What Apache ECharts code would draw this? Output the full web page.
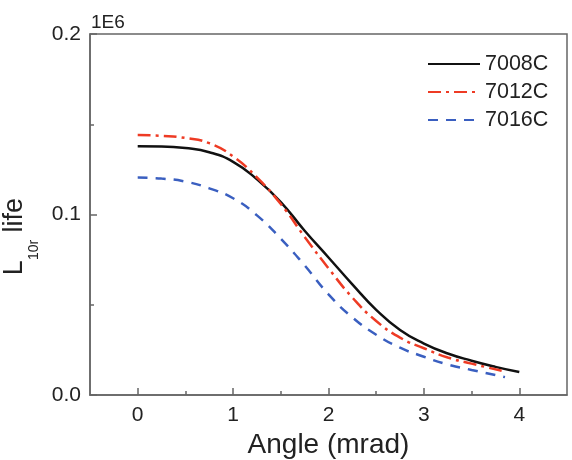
<!DOCTYPE html>
<html>
<head>
<meta charset="utf-8">
<script src="https://cdn.jsdelivr.net/npm/echarts@6/dist/echarts.min.js"></script>
<style>
html,body{margin:0;padding:0;background:#fff;}
#chart{width:572px;height:460px;}
</style>
</head>
<body>
<div id="chart"></div>
<script>
// Angle (mrad) sample points
var anglesA = [0, 0.25, 0.5, 0.75, 1, 1.25, 1.5, 1.75, 2, 2.25, 2.5, 2.75, 3, 3.25, 3.5, 3.75, 4];
var anglesB = [0, 0.25, 0.5, 0.75, 1, 1.25, 1.5, 1.75, 2, 2.25, 2.5, 2.75, 3, 3.25, 3.5, 3.85];
// L10r life (x 1E6)
var life7008C = [0.1378, 0.1377, 0.1368, 0.1345, 0.1292, 0.1195, 0.1069, 0.0910, 0.0762, 0.0613, 0.0472, 0.0360, 0.0285, 0.0230, 0.0190, 0.0156, 0.0127];
var life7012C = [0.1440, 0.1436, 0.1424, 0.1395, 0.1322, 0.1205, 0.1058, 0.0876, 0.0702, 0.0540, 0.0410, 0.0318, 0.0259, 0.0208, 0.0174, 0.0130];
var life7016C = [0.1205, 0.1199, 0.1182, 0.1145, 0.1090, 0.0995, 0.0866, 0.0718, 0.0558, 0.0430, 0.0334, 0.0262, 0.0212, 0.0169, 0.0139, 0.0099];
var seriesNames = ['7008C', '7012C', '7016C'];
var xMajorTicks = [0, 1, 2, 3, 4];
var xMinorTicks = [0.5, 1.5, 2.5, 3.5];

function pairs(xs, ys) { return xs.map(function (x, i) { return [x, ys[i]]; }); }

var FONT = 'Liberation Sans, Arial, sans-serif';
var AXIS_COLOR = '#666';

var chart = echarts.init(document.getElementById('chart'));
chart.setOption({
  animation: false,
  backgroundColor: '#fff',
  title: {
    text: '1E6', left: 86, top: 8,
    textStyle: { fontFamily: FONT, fontSize: 19, fontWeight: 'normal', color: '#222' }
  },
  grid: {
    left: 90, right: 5, top: 34, bottom: 65, containLabel: false, outerBoundsMode: 'none',
    show: true, borderColor: AXIS_COLOR, borderWidth: 1.5, backgroundColor: 'transparent'
  },
  legend: {
    orient: 'vertical', left: 422, top: 48,
    itemWidth: 52, itemHeight: 14, itemGap: 6,
    itemStyle: { opacity: 0 },
    textStyle: { fontFamily: FONT, fontSize: 21.5, color: '#222' },
    data: seriesNames
  },
  xAxis: [{
    type: 'value', min: -0.5, max: 4.5,
    name: 'Angle (mrad)', nameLocation: 'middle', nameGap: 30,
    nameTextStyle: { fontFamily: FONT, fontSize: 28, color: '#222' },
    axisLine: { show: true, onZero: false, lineStyle: { color: AXIS_COLOR, width: 1.5 } },
    axisTick: { show: true, inside: true, length: 7, customValues: xMajorTicks, lineStyle: { color: AXIS_COLOR, width: 1.5 } },
    axisLabel: { customValues: xMajorTicks, margin: 10, fontFamily: FONT, fontSize: 21, color: '#222' },
    splitLine: { show: false }
  }, {
    type: 'value', min: -0.5, max: 4.5, position: 'bottom',
    axisLine: { show: false, onZero: false },
    axisTick: { show: true, inside: true, length: 4, customValues: xMinorTicks, lineStyle: { color: AXIS_COLOR, width: 1.5 } },
    axisLabel: { show: false },
    splitLine: { show: false }
  }],
  yAxis: {
    type: 'value', min: 0, max: 0.2, interval: 0.1,
    name: '{l|L}{s|10r}{l| life}', nameLocation: 'middle', nameGap: 52, nameRotate: 90,
    nameTextStyle: {
      fontFamily: FONT, color: '#222', padding: [0, 44, 0, 0],
      rich: {
        l: { fontFamily: FONT, fontSize: 27, lineHeight: 30, verticalAlign: 'top', color: '#222' },
        s: { fontFamily: FONT, fontSize: 14, lineHeight: 14, verticalAlign: 'top', padding: [26, 0, 0, 0], color: '#222' }
      }
    },
    axisLine: { show: true, onZero: false, lineStyle: { color: AXIS_COLOR, width: 1.5 } },
    axisTick: { show: true, inside: true, length: 7, lineStyle: { color: AXIS_COLOR, width: 1.5 } },
    minorTick: { show: true, splitNumber: 2, length: 4, lineStyle: { color: AXIS_COLOR, width: 1.5 } },
    axisLabel: { margin: 9, fontFamily: FONT, fontSize: 21, color: '#222', formatter: function (v) { return v.toFixed(1); } },
    splitLine: { show: false }
  },
  series: [{
    name: seriesNames[0], type: 'line', smooth: true, symbol: 'none',
    lineStyle: { color: '#111', width: 2.5, type: 'solid' }, itemStyle: { color: '#111' },
    data: pairs(anglesA, life7008C)
  }, {
    name: seriesNames[1], type: 'line', smooth: true, symbol: 'none',
    lineStyle: { color: '#ee3b24', width: 2.5, type: [13, 5, 3, 5] }, itemStyle: { color: '#ee3b24' },
    data: pairs(anglesB, life7012C)
  }, {
    name: seriesNames[2], type: 'line', smooth: true, symbol: 'none',
    lineStyle: { color: '#3a5fc0', width: 2.5, type: [10, 8] }, itemStyle: { color: '#3a5fc0' },
    data: pairs(anglesB, life7016C)
  }]
});
</script>
</body>
</html>
